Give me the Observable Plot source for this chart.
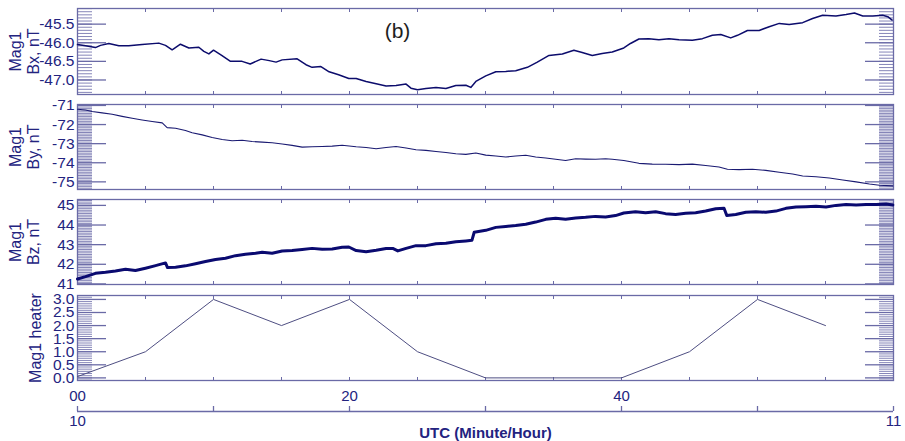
<!DOCTYPE html>
<html>
<head>
<meta charset="utf-8">
<script src="https://cdn.jsdelivr.net/npm/d3@7"></script>
<script src="https://cdn.jsdelivr.net/npm/@observablehq/plot@0.6"></script>
<style>
  body { margin: 0; background: #ffffff; }
  #chart { position: relative; width: 905px; height: 441px; font-family: Arial, "Liberation Sans", sans-serif; }
  #chart svg { position: absolute; left: 0; overflow: visible; }
</style>
</head>
<body>
<div id="chart"></div>
<script>
// Magnetometer 1 components (nT) and heater state, 10:00-11:00 UTC, minutes after 10:00
const bxMinute = [0, 0.59, 1.32, 1.69, 2.3, 3.04, 3.77, 4.75, 5.98, 6.47, 6.96, 7.57, 8.19, 8.92, 9.29, 9.66, 10.0, 10.6, 11.25, 12.1, 12.7, 13.5, 14.1, 14.6, 15.05, 16.15, 16.8, 17.25, 17.9, 18.5, 19.2, 19.95,
  20.49, 21.22, 21.96, 22.69, 23.42, 24.16, 24.52, 25.0, 25.62, 26.36, 27.09, 27.82, 28.56, 28.92, 29.29, 30.02, 30.76, 31.49, 32.22, 33.08, 33.81, 34.67, 35.65, 36.5, 37.11, 37.85, 38.58, 39.32, 40.17,
  40.66, 41.28, 42.01, 42.75, 43.49, 44.23, 45.21, 45.95, 46.68, 47.3, 48.03, 48.53, 49.26, 50.12, 50.86, 51.6, 52.33, 53.32, 54.05, 54.79, 55.77, 56.51, 57.13, 57.74, 58.48, 59.21, 59.58, 59.9];
const bxValue = [-46.05, -46.08, -46.13, -46.07, -46.02, -46.08, -46.08, -46.05, -46.01, -46.07, -46.19, -46.04, -46.14, -46.12, -46.23, -46.30, -46.20, -46.34, -46.50, -46.50, -46.57, -46.44, -46.48, -46.52, -46.46, -46.43, -46.59, -46.66, -46.64, -46.78, -46.86, -46.96,
  -46.96, -47.04, -47.10, -47.16, -47.15, -47.11, -47.22, -47.26, -47.23, -47.20, -47.23, -47.15, -47.14, -47.20, -47.04, -46.89, -46.78, -46.77, -46.75, -46.66, -46.52, -46.34, -46.30, -46.20, -46.26, -46.34, -46.29, -46.25, -46.14,
  -46.02, -45.90, -45.89, -45.92, -45.89, -45.92, -45.93, -45.89, -45.80, -45.78, -45.87, -45.80, -45.67, -45.67, -45.57, -45.48, -45.51, -45.46, -45.35, -45.26, -45.28, -45.24, -45.20, -45.28, -45.28, -45.26, -45.30, -45.39];

const byMinute = [0, 0.59, 1.08, 1.81, 2.55, 3.28, 4.02, 4.75, 5.49, 6.23, 6.59, 7.21, 7.94, 8.43, 9.17, 9.9, 10.64, 11.37, 12.11, 12.84, 13.58, 14.31, 15.05, 15.78, 16.52, 17.25, 17.99, 18.73, 19.46,
  20.49, 21.22, 21.96, 22.69, 23.42, 24.16, 24.89, 25.62, 26.36, 27.09, 27.82, 28.56, 29.29, 30.02, 30.76, 31.49, 32.22, 32.96, 33.69, 34.43, 35.16, 35.89, 36.63, 37.36, 38.09, 38.83, 39.32, 40.17,
  41.28, 42.26, 43.24, 44.23, 45.21, 46.19, 47.17, 47.79, 48.65, 49.63, 50.61, 51.6, 52.58, 53.32, 54.3, 55.28, 56.27, 57.25, 58.23, 58.97, 59.95];
const byValue = [-71.20, -71.24, -71.32, -71.39, -71.46, -71.57, -71.67, -71.76, -71.84, -71.91, -72.16, -72.19, -72.31, -72.43, -72.54, -72.68, -72.78, -72.85, -72.82, -72.89, -72.92, -72.95, -73.02, -73.09, -73.18, -73.16, -73.15, -73.13, -73.08,
  -73.16, -73.20, -73.27, -73.20, -73.15, -73.23, -73.32, -73.35, -73.41, -73.46, -73.53, -73.56, -73.49, -73.60, -73.65, -73.70, -73.65, -73.61, -73.70, -73.75, -73.82, -73.88, -73.79, -73.81, -73.82, -73.79, -73.82, -73.88,
  -74.03, -74.07, -74.08, -74.10, -74.07, -74.14, -74.22, -74.34, -74.36, -74.34, -74.40, -74.50, -74.59, -74.69, -74.73, -74.80, -74.90, -75.00, -75.11, -75.18, -75.21];

const bzMinute = [0, 0.59, 1.32, 2.06, 2.79, 3.53, 4.26, 5.0, 5.74, 6.47, 6.62, 7.21, 7.94, 8.68, 9.41, 10.15, 10.88, 11.62, 12.35, 13.09, 13.58, 14.31, 15.05, 15.78, 16.52, 17.25, 17.99, 18.73, 19.46, 19.95,
  20.49, 21.22, 21.96, 22.69, 23.18, 23.55, 24.16, 24.89, 25.62, 26.36, 27.09, 27.82, 28.56, 29.0, 29.17, 30.02, 30.76, 31.49, 32.22, 32.96, 33.69, 34.43, 35.16, 35.89, 36.63, 37.36, 38.09, 38.83, 39.56, 40.17,
  41.03, 41.77, 42.51, 43.24, 43.98, 44.72, 45.45, 46.19, 46.93, 47.54, 47.74, 48.4, 49.14, 49.88, 50.61, 51.35, 52.09, 52.83, 53.56, 54.3, 55.04, 55.77, 56.51, 57.25, 57.99, 58.72, 59.46, 59.95];
const bzValue = [41.25, 41.37, 41.54, 41.59, 41.66, 41.75, 41.68, 41.80, 41.93, 42.07, 41.83, 41.85, 41.92, 42.03, 42.14, 42.24, 42.31, 42.44, 42.51, 42.56, 42.61, 42.56, 42.68, 42.70, 42.75, 42.81, 42.76, 42.78, 42.87, 42.88,
  42.70, 42.64, 42.71, 42.80, 42.81, 42.68, 42.81, 42.95, 42.95, 43.05, 43.07, 43.15, 43.19, 43.22, 43.63, 43.73, 43.88, 43.93, 43.97, 44.04, 44.15, 44.29, 44.34, 44.29, 44.36, 44.39, 44.44, 44.41, 44.48, 44.61,
  44.68, 44.63, 44.68, 44.58, 44.54, 44.60, 44.63, 44.71, 44.83, 44.85, 44.48, 44.54, 44.65, 44.68, 44.65, 44.71, 44.85, 44.92, 44.93, 44.95, 44.92, 45.00, 45.05, 45.02, 45.04, 45.05, 45.07, 45.02];

const heaterMinute = [0, 5, 10, 15, 20, 25, 30, 35, 40, 45, 50, 55];
const heaterValue = [0.05, 1, 3, 2, 3, 1, 0, 0, 0, 1, 3, 2];

// Axis ticks and labels
const bxTicks = [-45.5, -46.0, -46.5, -47.0];
const bxTickLabels = ["-45.5", "-46.0", "-46.5", "-47.0"];
const byTicks = [-71, -72, -73, -74, -75];
const byTickLabels = ["-71", "-72", "-73", "-74", "-75"];
const bzTicks = [45, 44, 43, 42, 41];
const bzTickLabels = ["45", "44", "43", "42", "41"];
const heaterTicks = [3.0, 2.5, 2.0, 1.5, 1.0, 0.5, 0.0];
const heaterTickLabels = ["3.0", "2.5", "2.0", "1.5", "1.0", "0.5", "0.0"];
const minuteTicks = [0, 20, 40];
const minuteLabels = ["00", "20", "40"];
const hourTicks = [0, 60];
const hourLabels = ["10", "11"];
const edgeTicks = [0, 5, 10, 15, 20, 25, 30, 35, 40, 45, 50, 55, 60];
const baseTicks = [0, 10, 20, 30, 40, 50, 60];
const xTitle = "UTC (Minute/Hour)";

const textColor = "#23237f";
const frameColor = "#6a6aa6";
const minorColor = "#8585b8";
const font = "Arial, 'Liberation Sans', sans-serif";

const rows = (m, v) => m.map((t, i) => ({t, v: v[i]}));
const labeler = (ticks, labels) => d => labels[ticks.indexOf(d)];

function panel({data, domain, ticks, labels, title, titleDx, stroke, strokeWidth, top, bottom, marginBottom = 6, extra = []}) {
  const marginTop = 6;
  const minors = d3.range(Math.ceil(domain[0] * 12), Math.floor(domain[1] * 12) + 1).map(k => k / 12);
  const svg = Plot.plot({
    width: 905,
    height: bottom - top + marginTop + marginBottom,
    marginLeft: 77, marginRight: 12, marginTop, marginBottom,
    style: {fontFamily: font, background: "transparent", overflow: "visible"},
    x: {domain: [0, 60]},
    y: {domain},
    marks: [
      Plot.axisY(minors, {anchor: "left", tickSize: -15, fill: "none", stroke: minorColor, label: null}),
      Plot.axisY(minors, {anchor: "right", tickSize: -15, fill: "none", stroke: minorColor, label: null}),
      Plot.axisY(ticks, {anchor: "left", tickSize: -29, fill: "none", stroke: frameColor, strokeWidth: 1.3, label: null}),
      Plot.axisY(ticks, {anchor: "right", tickSize: -29, fill: "none", stroke: frameColor, strokeWidth: 1.3, label: null}),
      Plot.axisY(ticks, {anchor: "left", tickSize: 0, tickPadding: 3, tickFormat: labeler(ticks, labels), fill: textColor, fontSize: 15.5, label: null}),
      Plot.axisX(edgeTicks, {anchor: "top", tickSize: -3, fill: "none", stroke: frameColor, label: null}),
      Plot.axisX(edgeTicks, {anchor: "bottom", tickSize: -3, fill: "none", stroke: frameColor, label: null}),
      Plot.frame({stroke: frameColor, strokeWidth: 1.3}),
      Plot.line(data, {x: "t", y: "v", stroke, strokeWidth}),
      Plot.text([title], {frameAnchor: "left", dx: titleDx, rotate: -90, textAnchor: "middle", lineHeight: 1.13, lineAnchor: "middle", fontSize: 16, fill: textColor}),
      ...extra
    ]
  });
  svg.style.top = (top - marginTop) + "px";
  return svg;
}

const chart = document.getElementById("chart");

chart.append(panel({
  data: rows(bxMinute, bxValue), domain: [-47.39, -45.08], ticks: bxTicks, labels: bxTickLabels,
  title: "Mag1\nBx, nT", titleDx: -53, stroke: "#0c0c6c", strokeWidth: 1.5, top: 8, bottom: 94,
  extra: [Plot.text(["(b)"], {frameAnchor: "top", dx: -88, dy: 23, lineAnchor: "middle", fontSize: 21, fill: "#1e1e1e"})]
}));

chart.append(panel({
  data: rows(byMinute, byValue), domain: [-75.4, -70.95], ticks: byTicks, labels: byTickLabels,
  title: "Mag1\nBy, nT", titleDx: -53, stroke: "#1a1a72", strokeWidth: 1.1, top: 104, bottom: 189
}));

chart.append(panel({
  data: rows(bzMinute, bzValue), domain: [40.97, 45.3], ticks: bzTicks, labels: bzTickLabels,
  title: "Mag1\nBz, nT", titleDx: -53, stroke: "#0a0a70", strokeWidth: 3, top: 199, bottom: 284
}));

chart.append(panel({
  data: rows(heaterMinute, heaterValue), domain: [-0.1, 3.15], ticks: heaterTicks, labels: heaterTickLabels,
  title: "Mag1 heater", titleDx: -42, stroke: "#4e4e82", strokeWidth: 1, top: 295, bottom: 380, marginBottom: 26,
  extra: [Plot.axisX(minuteTicks, {anchor: "bottom", tickSize: 0, tickPadding: 10, tickFormat: labeler(minuteTicks, minuteLabels), fill: textColor, fontSize: 15, label: null})]
}));

// Hour axis along the bottom
const base = Plot.plot({
  width: 905, height: 41,
  marginLeft: 77, marginRight: 12, marginTop: 0, marginBottom: 30,
  style: {fontFamily: font, background: "transparent", overflow: "visible"},
  x: {domain: [0, 60]},
  y: {domain: [0, 1], axis: null},
  marks: [
    Plot.ruleY([0], {stroke: frameColor, strokeWidth: 1.5}),
    Plot.axisX(baseTicks, {anchor: "bottom", tickSize: -5, fill: "none", stroke: frameColor, strokeWidth: 1.3, label: null}),
    Plot.axisX(hourTicks, {anchor: "bottom", tickSize: 0, tickPadding: 4, tickFormat: labeler(hourTicks, hourLabels), fill: textColor, fontSize: 15, label: null}),
    Plot.text([xTitle], {frameAnchor: "bottom", dy: 22, lineAnchor: "middle", fontSize: 15, fontWeight: "bold", fill: textColor})
  ]
});
base.style.top = "400px";
chart.append(base);
</script>
</body>
</html>
